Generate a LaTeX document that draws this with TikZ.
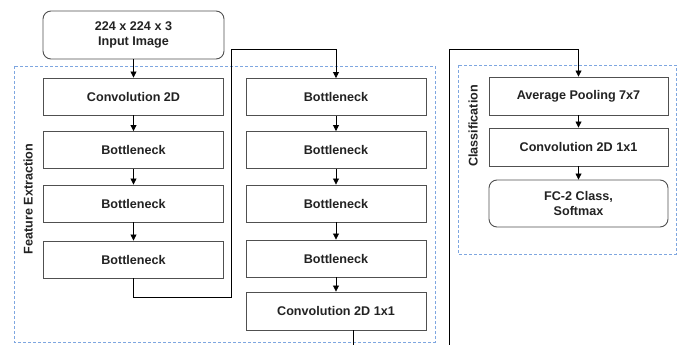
\documentclass[tikz,border=0pt]{standalone}
\usepackage{fontspec}
\setmainfont{Liberation Sans}
\usetikzlibrary{arrows.meta,calc}
\definecolor{boxline}{HTML}{505050}
\definecolor{grpline}{HTML}{7EA6E0}
\definecolor{txt}{HTML}{222222}
\begin{document}
\begin{tikzpicture}[x=1pt,y=-1pt,
  layer/.style={draw=boxline,line width=0.9pt,fill=white,minimum width=180pt,minimum height=37pt,inner sep=0pt,
    font=\fontsize{12.6}{15}\selectfont\bfseries,text=txt,align=center},
  roundlayer/.style={layer,rounded corners=8pt},
  grp/.style={draw=grpline,line width=0.7pt,dash pattern=on 3pt off 2pt},
  conn/.style={draw=black,line width=0.8pt},
  arr/.style={conn,-{Triangle[length=6pt,width=6pt]}},
  grplabel/.style={rotate=90,font=\fontsize{12.6}{15}\selectfont\bfseries,text=txt,inner sep=0pt}]
\useasboundingbox (0,0) rectangle (683,345);
\clip (0,0) rectangle (683,345);
% groups
\draw[grp] (14,66) rectangle (435,342);
\draw[grp] (458,65) rectangle (676,254);
\node[grplabel] (fe) at (28,199) {Feature Extraction};
\node[grplabel] (cl) at (473,126) {Classification};
% column 1
\node[roundlayer,minimum width=181pt,minimum height=48pt] (in) at (133.5,35) {224 x 224 x 3\\Input Image};
\node[layer] (a1) at (133.5,96.5) {Convolution 2D};
\node[layer] (a2) at (133.5,150) {Bottleneck};
\node[layer] (a3) at (133.5,203.5) {Bottleneck};
\node[layer] (a4) at (133.5,259.5) {Bottleneck};
% column 2
\node[layer] (b1) at (336,97) {Bottleneck};
\node[layer] (b2) at (336,150) {Bottleneck};
\node[layer] (b3) at (336,203.5) {Bottleneck};
\node[layer] (b4) at (336,258.5) {Bottleneck};
\node[layer,minimum height=38pt] (b5) at (336,311) {Convolution 2D 1x1};
% column 3
\node[layer,minimum width=179pt,minimum height=38pt] (c1) at (578.5,96) {Average Pooling 7x7};
\node[layer,minimum width=179pt,minimum height=38pt] (c2) at (578.5,147) {Convolution 2D 1x1};
\node[roundlayer,minimum width=179pt,minimum height=47pt] (c3) at (578.5,203.5) {FC-2 Class,\\Softmax};
% arrows
\draw[arr] (in) -- (a1);
\draw[arr] (a1) -- (a2);
\draw[arr] (a2) -- (a3);
\draw[arr] (a3) -- (a4);
\draw[arr] (a4.south) |- (231,297) |- (336,49) -- (b1.north);
\draw[arr] (b1) -- (b2);
\draw[arr] (b2) -- (b3);
\draw[arr] (b3) -- (b4);
\draw[arr] (b4) -- (b5);
\coordinate (b5out) at ($(b5.south)+(17,0)$);
\draw[arr] (b5out) -- ++(0,40) -| (449.5,49) -| (c1.north);
\draw[arr] (c1) -- (c2);
\draw[arr] (c2) -- (c3);
\end{tikzpicture}
\end{document}
